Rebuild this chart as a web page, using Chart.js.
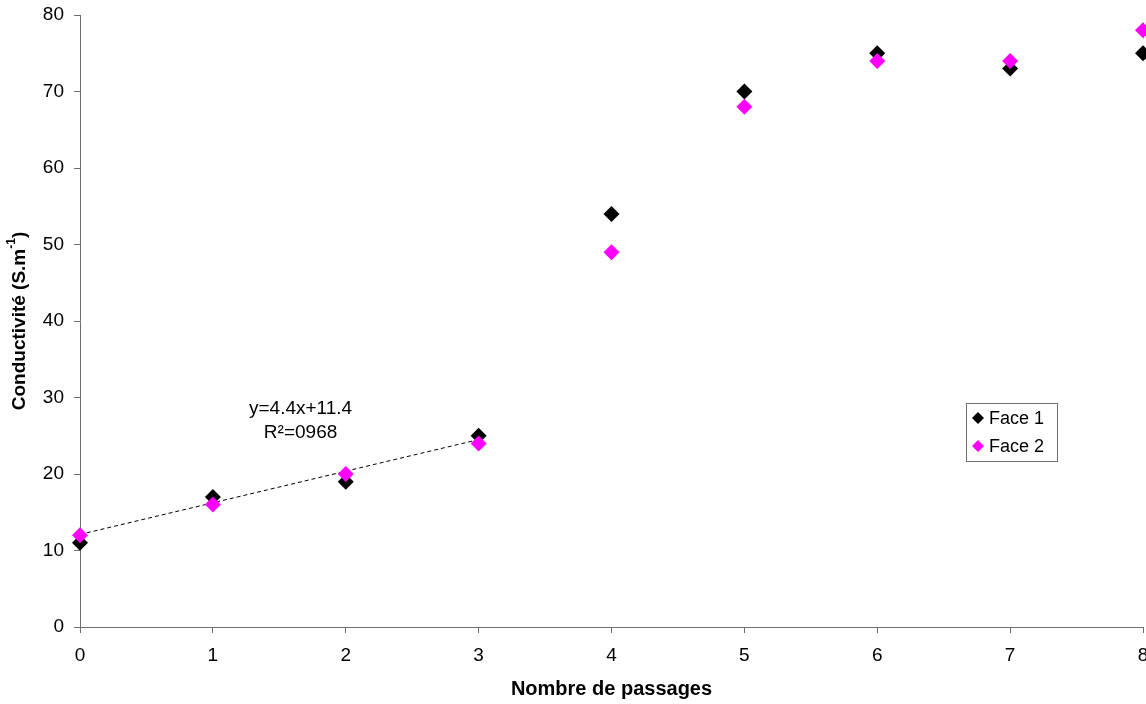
<!DOCTYPE html>
<html>
<head>
<meta charset="utf-8">
<script src="https://cdn.jsdelivr.net/npm/chart.js@4.4.1/dist/chart.umd.min.js"></script>
<style>
  html, body { margin: 0; padding: 0; background: #fff; }
  #wrap { width: 1146px; height: 704px; }
</style>
</head>
<body>
<div id="wrap"><canvas id="chart" width="1146" height="704"></canvas></div>
<script>
// Data
const passages = [0, 1, 2, 3, 4, 5, 6, 7, 8];
const face1 = [11, 17, 19, 25, 54, 70, 75, 73, 75];
const face2 = [12, 16, 20, 24, 49, 68, 74, 74, 78];
const trendX = [0, 3];
const trendY = [12.1, 24.5];
const trendLabel = ['y=4.4x+11.4', 'R\u00b2=0968'];

const FONT = "'Liberation Sans', Arial, sans-serif";
const AXIS_GREY = '#6e6e6e';

function toPoints(xs, ys) {
    return xs.map((x, i) => ({ x: x, y: ys[i] }));
}

// Y axis title with a superscript, legend box and trend label
const extrasPlugin = {
    id: 'extras',
    afterDraw(chart) {
        const ctx = chart.ctx;
        const xs = chart.scales.x, ys = chart.scales.y;

        // y axis title
        ctx.save();
        ctx.translate(20, 321);
        ctx.rotate(-Math.PI / 2);
        ctx.fillStyle = '#000';
        ctx.textBaseline = 'middle';
        const main = 'Conductivit\u00e9 (S.m';
        const sup = '-1';
        const tail = ')';
        ctx.font = 'bold 19px ' + FONT;
        const w1 = ctx.measureText(main).width;
        const w3 = ctx.measureText(tail).width;
        ctx.font = 'bold 12px ' + FONT;
        const w2 = ctx.measureText(sup).width;
        let x0 = -(w1 + w2 + w3) / 2;
        ctx.font = 'bold 19px ' + FONT;
        ctx.textAlign = 'left';
        ctx.fillText(main, x0, 0);
        ctx.font = 'bold 12px ' + FONT;
        ctx.fillText(sup, x0 + w1, -8);
        ctx.font = 'bold 19px ' + FONT;
        ctx.fillText(tail, x0 + w1 + w2, 0);
        ctx.restore();

        // trend equation
        ctx.save();
        ctx.fillStyle = '#000';
        ctx.font = '19px ' + FONT;
        ctx.textAlign = 'center';
        ctx.textBaseline = 'middle';
        const tx = xs.getPixelForValue(1.66);
        ctx.fillText(trendLabel[0], tx, ys.getPixelForValue(28.5));
        ctx.fillText(trendLabel[1], tx, ys.getPixelForValue(25.4));
        ctx.restore();

        // legend box
        ctx.save();
        const bx = 966, by = 403, bw = 91, bh = 58;
        ctx.fillStyle = '#fff';
        ctx.fillRect(bx, by, bw, bh);
        ctx.strokeStyle = AXIS_GREY;
        ctx.lineWidth = 1;
        ctx.strokeRect(bx + 0.5, by + 0.5, bw, bh);
        ctx.font = '18px ' + FONT;
        ctx.textAlign = 'left';
        ctx.textBaseline = 'middle';
        [0, 1].forEach(i => {
            const ds = chart.data.datasets[i];
            const cy = by + 15 + i * 28;
            ctx.fillStyle = ds.backgroundColor;
            ctx.beginPath();
            ctx.moveTo(bx + 12, cy - 6);
            ctx.lineTo(bx + 18, cy);
            ctx.lineTo(bx + 12, cy + 6);
            ctx.lineTo(bx + 6, cy);
            ctx.closePath();
            ctx.fill();
            ctx.fillStyle = '#000';
            ctx.fillText(ds.label, bx + 23, cy + 1);
        });
        ctx.restore();
    }
};

const tickFont = { family: FONT, size: 19 };

new Chart(document.getElementById('chart'), {
    type: 'scatter',
    data: {
        datasets: [
            {
                label: 'Face 1',
                data: toPoints(passages, face1),
                backgroundColor: '#000000',
                borderColor: '#000000',
                pointStyle: 'rectRot',
                pointRadius: 8,
                pointHoverRadius: 8,
                borderWidth: 0,
                order: 2
            },
            {
                label: 'Face 2',
                data: toPoints(passages, face2),
                backgroundColor: '#ff00ff',
                borderColor: '#ff00ff',
                pointStyle: 'rectRot',
                pointRadius: 8,
                pointHoverRadius: 8,
                borderWidth: 0,
                order: 1
            },
            {
                label: 'Tendance',
                type: 'line',
                data: toPoints(trendX, trendY),
                borderColor: '#000000',
                borderWidth: 1,
                borderDash: [4, 3],
                pointRadius: 0,
                fill: false,
                order: 3
            }
        ]
    },
    options: {
        responsive: false,
        animation: false,
        clip: false,
        layout: { autoPadding: false, padding: { top: 15, right: 3, left: 0, bottom: 0 } },
        plugins: {
            legend: { display: false },
            tooltip: { enabled: false }
        },
        scales: {
            x: {
                type: 'linear',
                min: 0,
                max: 8,
                ticks: { stepSize: 1, color: '#000', font: tickFont, padding: 11 },
                grid: { drawOnChartArea: false, drawTicks: true, tickLength: 6, color: AXIS_GREY },
                border: { display: true, color: AXIS_GREY, width: 1 },
                title: {
                    display: true,
                    text: 'Nombre de passages',
                    color: '#000',
                    font: { family: FONT, size: 20, weight: 'bold' },
                    padding: { top: 0, bottom: 3 }
                },
                afterFit(scale) {
                    scale.height = 77;
                    scale.paddingLeft = 0;
                    scale.paddingRight = 0;
                }
            },
            y: {
                min: 0,
                max: 80,
                ticks: { stepSize: 10, color: '#000', font: tickFont, padding: 10 },
                grid: { drawOnChartArea: false, drawTicks: true, tickLength: 6, color: AXIS_GREY },
                border: { display: true, color: AXIS_GREY, width: 1 },
                afterFit(scale) {
                    scale.width = 80;
                    scale.paddingTop = 0;
                    scale.paddingBottom = 0;
                }
            }
        }
    },
    plugins: [extrasPlugin]
});
</script>
</body>
</html>
